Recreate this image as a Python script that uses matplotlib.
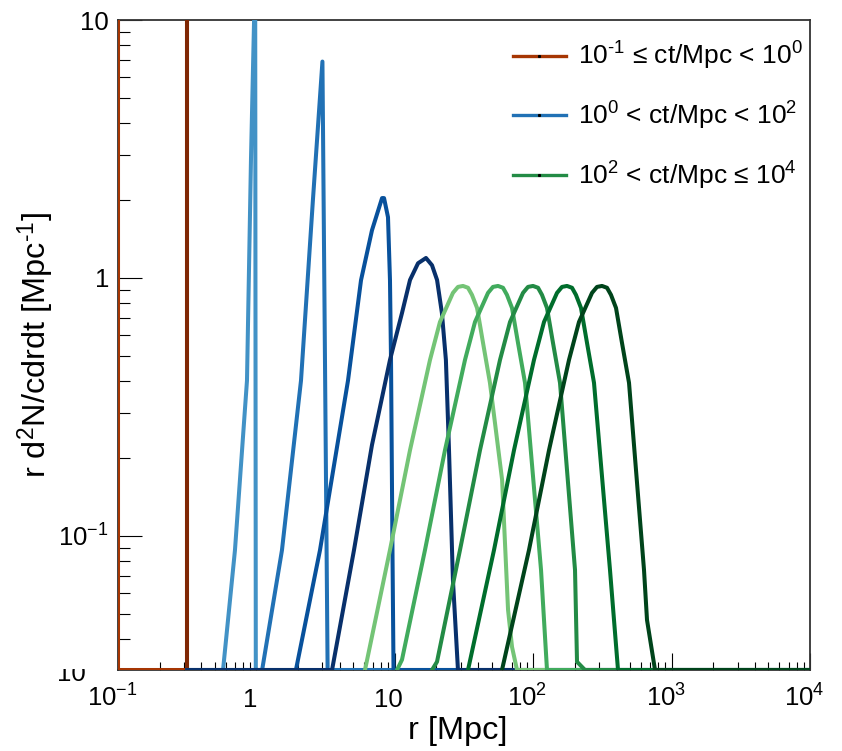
import numpy as np
import matplotlib
matplotlib.use('Agg')
import matplotlib.pyplot as plt
from matplotlib.lines import Line2D
from matplotlib.ticker import FixedLocator, FixedFormatter, LogLocator, NullFormatter
from matplotlib.transforms import Bbox, ScaledTranslation

plt.rcParams['font.family'] = ['Liberation Sans', 'DejaVu Sans']
plt.rcParams['mathtext.fontset'] = 'custom'
plt.rcParams['mathtext.rm'] = 'Liberation Sans'
plt.rcParams['mathtext.it'] = 'Liberation Sans:italic'
plt.rcParams['mathtext.bf'] = 'Liberation Sans:bold'
plt.rcParams['mathtext.sf'] = 'Liberation Sans'

# r [Mpc] and r d2N/cdrdt [1/Mpc] (0 = empty bin)
# 1e-1 <= ct/Mpc < 1e0
x_br1 = [0.1, 0.1, 0.1, 0.316]
y_br1 = [0, 20, 0, 0]
x_br2 = [0.316, 0.316, 0.316]
y_br2 = [0, 20, 0]

# 1e0 < ct/Mpc < 1e2
x_b1 = [0.316, 0.574, 0.700, 0.855, 0.914, 0.962, 0.98, 0.99, 1e4]
y_b1 = [0, 0, 0.088, 0.40, 2.9, 10, 15, 0, 0]
x_b2 = [0.316, 1.10, 1.53, 2.10, 2.56, 3.0, 3.27, 1e4]
y_b2 = [0, 0, 0.088, 0.40, 2.0, 6.9, 0, 0]
x_b3 = [0.316, 1.93, 2.88, 4.59, 5.70, 6.84, 8.09, 8.36, 8.93, 9.23, 9.39, 9.62, 9.79, 1e4]
y_b3 = [0, 0, 0.088, 0.40, 0.98, 1.53, 2.04, 2.04, 1.72, 0.98, 0.48, 0.088, 0, 0]
x_b4 = [0.316, 3.52, 5.07, 6.84, 9.23, 11.27, 12.88, 14.72, 16.8, 18.57, 20.2, 21.9, 23.4,
        24.6, 26.3, 28.6, 1e4]
y_b4 = [0, 0, 0.088, 0.225, 0.481, 0.731, 0.982, 1.14, 1.195, 1.12, 0.982, 0.731, 0.481,
        0.221, 0.0675, 0, 0]

# 1e2 < ct/Mpc <= 1e4
x_g1 = [6.09, 9.23, 12.88, 17.96, 21.2, 26.3, 28.6, 31.1, 33.8, 36.1, 39.3, 43.4, 48.7, 59.6,
        65.8, 70.3, 76.4, 1e4]
y_g1 = [0, 0.0882, 0.215, 0.481, 0.675, 0.875, 0.923, 0.931, 0.916, 0.86, 0.765, 0.560, 0.392,
        0.165, 0.0517, 0.0371, 0, 0]
x_g2 = [10.37, 11.27, 16.53, 23.05, 32.15, 37.97, 47.15, 51.2, 55.68, 60.5, 64.6, 70.29, 77.66,
        87.27, 113.9, 125.8, 1e4]
y_g2 = [0, 0.0331, 0.0882, 0.215, 0.481, 0.675, 0.875, 0.923, 0.931, 0.916, 0.86, 0.765, 0.560,
        0.392, 0.0738, 0, 0]
x_g3 = [18.57, 20.18, 29.59, 41.27, 57.56, 68.00, 84.39, 91.7, 99.68, 108.4, 115.7, 125.8, 139.0,
        156.2, 200.5, 207.3, 236.7, 1e4]
y_g3 = [0, 0.0325, 0.0882, 0.215, 0.481, 0.675, 0.875, 0.923, 0.931, 0.916, 0.86, 0.765, 0.560,
        0.392, 0.0738, 0.0325, 0, 0]
x_g4 = [33.80, 52.11, 72.67, 101.3, 119.7, 148.6, 161.4, 175.4, 190.7, 203.6, 221.5, 244.8, 275.0,
        358.8, 410.0, 1e4]
y_g4 = [0, 0.0882, 0.215, 0.481, 0.675, 0.875, 0.923, 0.931, 0.916, 0.86, 0.765, 0.560, 0.392,
        0.0738, 0, 0]
x_g5 = [59.51, 93.26, 130.1, 181.4, 214.2, 266.0, 289.0, 314.1, 341.4, 364.7, 396.6, 438.1, 492.4,
        631.8, 664.2, 758.9, 1e4]
y_g5 = [0, 0.0882, 0.215, 0.481, 0.675, 0.875, 0.923, 0.931, 0.916, 0.86, 0.765, 0.560, 0.392,
        0.0738, 0.0472, 0, 0]

legend_labels = [r'$10^{\text{-1}}$ ≤ ct/Mpc < $10^{0}$',
                 r'$10^{0}$ < ct/Mpc < $10^{2}$',
                 r'$10^{2}$ < ct/Mpc ≤ $10^{4}$']
legend_colors = ['#a63603', '#2171b5', '#238b45']

xtick_vals = [0.1, 1, 10, 100, 1000, 10000]
xtick_labels = [r'$10^{-1}$', '1', '10', r'$10^{2}$', r'$10^{3}$', r'$10^{4}$']
ytick_vals = [0.1, 1, 10]
ytick_labels = [r'$10^{-1}$', '1', '10']

ybot = 0.0302

fig = plt.figure(figsize=(8.42, 7.51), dpi=100)
ax = fig.add_axes([118/842, 81/751, 692/842, 650/751])

curves = [(x_br1, y_br1, '#a63603'), (x_br2, y_br2, '#7f2704'),
          (x_b1, y_b1, '#4292c6'), (x_b2, y_b2, '#2171b5'),
          (x_b3, y_b3, '#08519c'), (x_b4, y_b4, '#08306b'),
          (x_g1, y_g1, '#74c476'), (x_g2, y_g2, '#41ab5d'),
          (x_g3, y_g3, '#238b45'), (x_g4, y_g4, '#006d2c'),
          (x_g5, y_g5, '#00441b')]
for xs, ys, c in curves:
    # empty bins sit on the bottom of the frame, like ROOT does
    ax.plot(xs, np.maximum(ys, ybot), color=c, lw=2.9, zorder=3)

ax.set_xscale('log')
ax.set_yscale('log')
ax.set_xlim(0.1, 1e4)
ax.set_ylim(ybot, 10)

ax.xaxis.set_major_locator(FixedLocator(xtick_vals))
ax.xaxis.set_major_formatter(FixedFormatter(xtick_labels))
ax.xaxis.set_minor_locator(LogLocator(base=10, subs=np.arange(2, 10), numticks=30))
ax.xaxis.set_minor_formatter(NullFormatter())
ax.yaxis.set_major_locator(FixedLocator(ytick_vals))
ax.yaxis.set_major_formatter(FixedFormatter(ytick_labels))
ax.yaxis.set_minor_locator(LogLocator(base=10, subs=np.arange(2, 10), numticks=30))
ax.yaxis.set_minor_formatter(NullFormatter())

ax.tick_params(axis='x', which='major', direction='in', length=12, width=0.8, labelsize=18.5, pad=26.6)
ax.tick_params(axis='x', which='minor', direction='in', length=6, width=0.8)
ax.tick_params(axis='y', which='major', direction='in', length=17, width=0.8, labelsize=18.5, pad=6.5)
ax.tick_params(axis='y', which='minor', direction='in', length=8.6, width=0.8)

shift = ScaledTranslation(-6/100, 0, fig.dpi_scale_trans)
for lab in ax.get_xticklabels():
    lab.set_va('baseline')
    lab.set_transform(lab.get_transform() + shift)

for sp in ax.spines.values():
    sp.set_color('#333333')
    sp.set_linewidth(1.3)

ax.set_xlabel('r [Mpc]', fontsize=23.4)
ax.xaxis.set_label_coords(0.4905, -0.070)
ax.set_ylabel(r'r d$^{2}$N/cdrdt [Mpc$^{\text{-1}}$]', fontsize=23.4)
ax.yaxis.set_label_coords(-0.088, 0.5)

handles = [Line2D([], [], color=c, lw=2.4, marker='s', ms=1.2, mfc='k', mec='k') for c in legend_colors]
ax.legend(handles, legend_labels, loc='upper left', bbox_to_anchor=(513/842, 1 - 40/751),
          bbox_transform=fig.transFigure, frameon=False, fontsize=19, handlelength=2.0,
          handletextpad=0.45, labelspacing=1.05, borderpad=0, borderaxespad=0)

# half hidden label peeking out under the frame, as in the original
t = fig.text(86/842, 1 - 681/751, '10', ha='right', va='baseline', fontsize=18.5)
t.set_clip_box(Bbox.from_extents(0, 0, 842, 751 - 669))
t.set_clip_on(True)

fig.savefig('out.png', dpi=100)
